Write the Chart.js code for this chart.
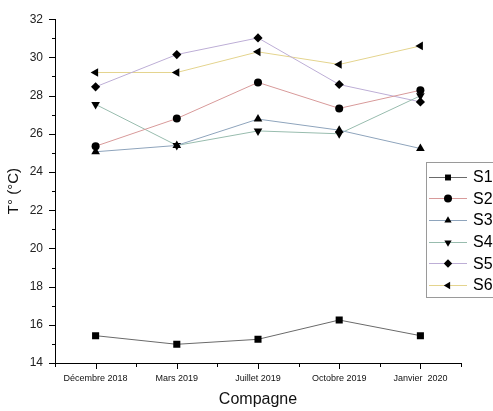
<!DOCTYPE html>
<html>
<head>
<meta charset="utf-8">
<script src="https://cdn.jsdelivr.net/npm/chart.js@4/dist/chart.umd.min.js"></script>
<style>
html,body{margin:0;padding:0;background:#fff;}
#wrap{width:493px;height:411px;position:relative;}
</style>
</head>
<body>
<div id="wrap"><canvas id="c" width="493" height="411"></canvas></div>
<script>
const categories = ["Décembre 2018", "Mars 2019", "Juillet 2019", "Octobre 2019", "Janvier  2020"];
const S1 = [15.43, 14.98, 15.24, 16.25, 15.43];
const S2 = [25.35, 26.80, 28.69, 27.33, 28.28];
const S3 = [25.06, 25.39, 26.77, 26.19, 25.23];
const S4 = [27.54, 25.39, 26.15, 26.00, 27.99];
const S5 = [28.46, 30.15, 31.02, 28.58, 27.67];
const S6 = [29.21, 29.21, 30.29, 29.63, 30.60];
const yTicks = [14, 16, 18, 20, 22, 24, 26, 28, 30, 32];

const seriesNames = ["S1", "S2", "S3", "S4", "S5", "S6"];
const seriesValues = [S1, S2, S3, S4, S5, S6];
const lineColors = ["#6a6a6a", "#d89a9a", "#8ea4bc", "#98bcae", "#bdaed6", "#e4d48e"];
const pointStyles = ["rect", "circle", "triangle", "triangle", "rectRot", "triangle"];
const pointRotations = [0, 0, 0, 180, 0, -90];
const pointRadii = [5, 4, 5, 5, 4.6, 5];

const datasets = seriesNames.map((name, k) => ({
  label: name,
  data: seriesValues[k].map((v, i) => ({x: i, y: v})),
  borderColor: lineColors[k],
  borderWidth: 1,
  backgroundColor: "#000",
  pointBackgroundColor: "#000",
  pointBorderColor: "#000",
  pointBorderWidth: 0,
  pointStyle: pointStyles[k],
  rotation: pointRotations[k],
  pointRadius: pointRadii[k],
  tension: 0,
  fill: false
}));

const FONT = "'Liberation Sans', Arial, sans-serif";

const extras = {
  id: "extras",
  afterDraw(chart) {
    const ctx = chart.ctx;
    const xs = chart.scales.x, ys = chart.scales.y;
    const area = chart.chartArea;
    ctx.save();
    ctx.strokeStyle = "#000";
    ctx.lineWidth = 1;
    // x ticks
    for (let v = -0.5; v <= 4.5 + 1e-9; v += 0.5) {
      const px = Math.round(xs.getPixelForValue(v)) + 0.5;
      const major = Math.abs(v - Math.round(v)) < 1e-9;
      ctx.beginPath();
      ctx.moveTo(px, area.bottom);
      ctx.lineTo(px, area.bottom + (major ? 6 : 4));
      ctx.stroke();
    }
    // y ticks
    for (let v = 14; v <= 32; v += 1) {
      const py = Math.round(ys.getPixelForValue(v)) + 0.5;
      const major = v % 2 === 0;
      ctx.beginPath();
      ctx.moveTo(area.left, py);
      ctx.lineTo(area.left - (major ? 6 : 3), py);
      ctx.stroke();
    }
    // legend
    const lx = 426.5, ly = 162.5;
    ctx.fillStyle = "#fff";
    ctx.fillRect(lx, ly, 80, 135);
    ctx.strokeStyle = "#9a9a9a";
    ctx.strokeRect(lx, ly, 80, 135);
    ctx.font = "16px " + FONT;
    ctx.textBaseline = "middle";
    ctx.textAlign = "left";
    chart.data.datasets.forEach((ds, k) => {
      const y = 176.5 + k * 21.7;
      ctx.strokeStyle = ds.borderColor;
      ctx.lineWidth = 1;
      ctx.beginPath();
      ctx.moveTo(429, Math.round(y) + 0.5);
      ctx.lineTo(467, Math.round(y) + 0.5);
      ctx.stroke();
      ctx.fillStyle = "#000";
      ctx.strokeStyle = "#000";
      Chart.helpers.drawPoint(ctx, {
        pointStyle: ds.pointStyle,
        rotation: ds.rotation,
        radius: Math.min(ds.pointRadius, 4.2),
        borderWidth: 0
      }, 448, Math.round(y) + 0.5);
      ctx.fillStyle = "#000";
      ctx.fillText(ds.label, 473, y + 1);
    });
    ctx.restore();
  }
};

new Chart(document.getElementById("c"), {
  type: "line",
  data: { datasets },
  plugins: [extras],
  options: {
    responsive: false,
    animation: false,
    devicePixelRatio: 1,
    layout: { padding: { top: 19, right: 32, left: 0, bottom: 0 } },
    plugins: { legend: { display: false }, tooltip: { enabled: false } },
    scales: {
      x: {
        type: "linear",
        min: -0.5,
        max: 4.5,
        afterBuildTicks: (s) => { s.ticks = categories.map((c, i) => ({ value: i })); },
        afterFit: (s) => { s.height = 48; },
        grid: { display: false, drawTicks: false },
        border: { display: true, color: "#000", width: 1 },
        ticks: {
          callback: (v) => categories[v],
          autoSkip: false,
          maxRotation: 0,
          padding: 10,
          color: "#111",
          font: { family: FONT, size: 9 }
        },
        title: {
          display: true,
          text: "Compagne",
          color: "#111",
          font: { family: FONT, size: 16 },
          padding: { top: 0, bottom: 2 }
        }
      },
      y: {
        min: 14,
        max: 32,
        afterBuildTicks: (s) => { s.ticks = yTicks.map(v => ({ value: v })); },
        afterFit: (s) => { s.width = 55; },
        grid: { display: false, drawTicks: false },
        border: { display: true, color: "#000", width: 1 },
        ticks: {
          padding: 12,
          color: "#222",
          font: { family: FONT, size: 12 }
        },
        title: {
          display: true,
          text: "T° (°C)",
          color: "#111",
          font: { family: FONT, size: 15 },
          padding: { top: 5, bottom: 0 }
        }
      }
    }
  }
});
</script>
</body>
</html>
